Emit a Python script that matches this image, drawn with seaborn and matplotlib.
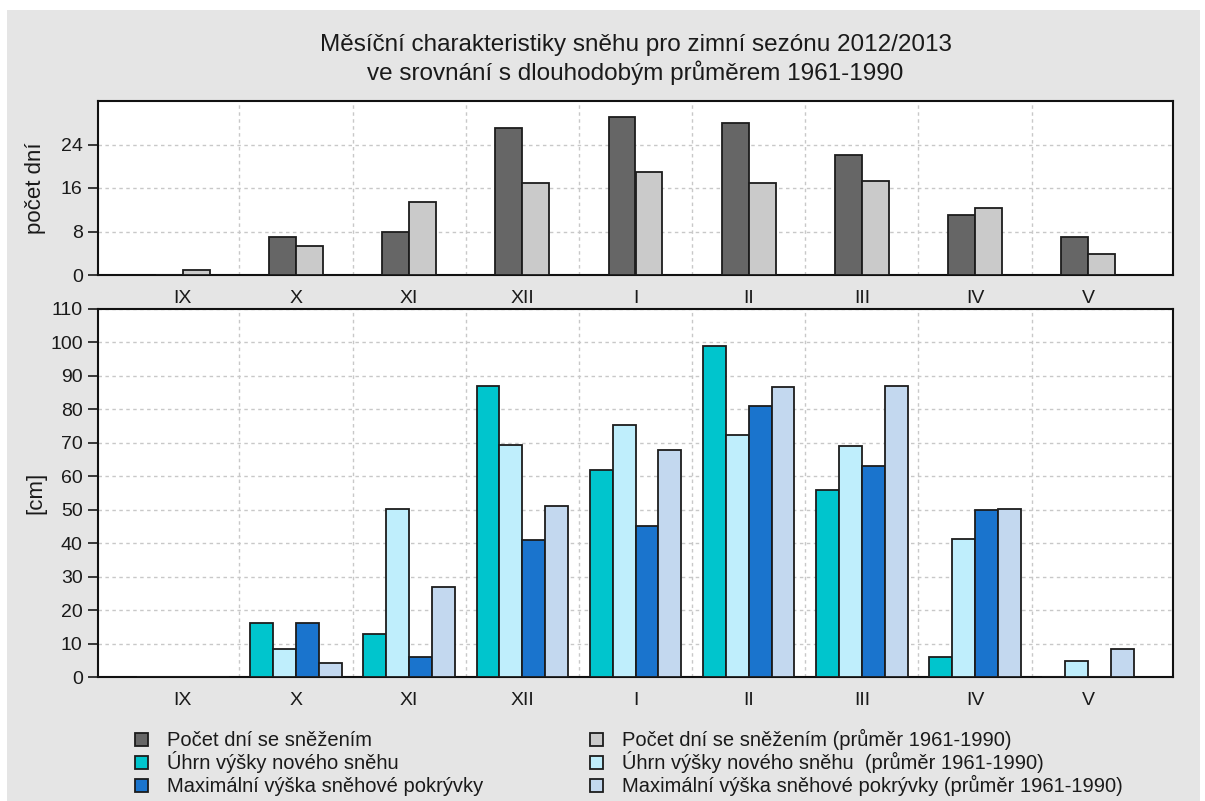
import numpy as np
import pandas as pd
import matplotlib
matplotlib.use("Agg")
import matplotlib.pyplot as plt
import seaborn as sns
from matplotlib.patches import Rectangle

# ---------------- data ----------------
months = ["IX", "X", "XI", "XII", "I", "II", "III", "IV", "V"]
days_snow = [0, 7, 8, 27, 29, 28, 22, 11, 7]
days_snow_avg = [1, 5.3, 13.5, 17, 19, 17, 17.3, 12.3, 3.8]
new_snow = [0, 16, 13, 87, 62, 99, 56, 6, 0]
new_snow_avg = [0, 8.5, 50.3, 69.4, 75.2, 72.2, 68.9, 41.2, 4.7]
max_depth = [0, 16, 6, 41, 45, 81, 63, 50, 0]
max_depth_avg = [0, 4.3, 26.8, 51.2, 67.9, 86.7, 87.1, 50.2, 8.5]

lab_days = "Počet dní se sněžením"
lab_days_avg = "Počet dní se sněžením (průměr 1961-1990)"
lab_new = "Úhrn výšky nového sněhu"
lab_new_avg = "Úhrn výšky nového sněhu  (průměr 1961-1990)"
lab_max = "Maximální výška sněhové pokrývky"
lab_max_avg = "Maximální výška sněhové pokrývky (průměr 1961-1990)"

title1 = "Měsíční charakteristiky sněhu pro zimní sezónu 2012/2013"
title2 = "ve srovnání s dlouhodobým průměrem 1961-1990"
ylabel_top = "počet dní"
ylabel_bottom = "[cm]"

c_days, c_days_avg = "#666666", "#cacaca"
c_new, c_new_avg = "#00c5cd", "#bfeefc"
c_max, c_max_avg = "#1a74cd", "#c3d8ef"

# ---------------- style ----------------
sns.set_style("white")
plt.rcParams["font.family"] = ["Liberation Sans", "DejaVu Sans"]

W, H = 1205, 801
fig = plt.figure(figsize=(W / 100, H / 100), dpi=100)
fig.patch.set_facecolor("white")
fig.patches.append(Rectangle((7 / W, 0), (1200 - 7) / W, 1 - 10 / H,
                             transform=fig.transFigure, facecolor="#e5e5e5",
                             edgecolor="none", zorder=-10))

left, right = 98 / W, 1173 / W
ax1 = fig.add_axes([left, 1 - 275 / H, right - left, (275 - 101) / H])
ax2 = fig.add_axes([left, 1 - 677 / H, right - left, (677 - 309) / H])

df_top = pd.DataFrame({
    "month": months * 2,
    "value": days_snow + days_snow_avg,
    "series": [lab_days] * 9 + [lab_days_avg] * 9,
})
df_bot = pd.DataFrame({
    "month": months * 4,
    "value": new_snow + new_snow_avg + max_depth + max_depth_avg,
    "series": [lab_new] * 9 + [lab_new_avg] * 9 + [lab_max] * 9 + [lab_max_avg] * 9,
})

edge = "#1c1c1c"
sns.barplot(data=df_top, x="month", y="value", hue="series", order=months,
            hue_order=[lab_days, lab_days_avg], palette=[c_days, c_days_avg],
            width=0.476, saturation=1, edgecolor=edge, linewidth=1.3,
            errorbar=None, legend=False, ax=ax1, zorder=3)
sns.barplot(data=df_bot, x="month", y="value", hue="series", order=months,
            hue_order=[lab_new, lab_new_avg, lab_max, lab_max_avg],
            palette=[c_new, c_new_avg, c_max, c_max_avg],
            width=0.81, saturation=1, edgecolor=edge, linewidth=1.3,
            errorbar=None, legend=False, ax=ax2, zorder=3)

for ax, ylim, yticks, ylab in [(ax1, (0, 32), [0, 8, 16, 24], ylabel_top),
                               (ax2, (0, 110), list(range(0, 111, 10)), ylabel_bottom)]:
    ax.set_facecolor("white")
    ax.set_xlim(-0.75, 8.75)
    ax.set_ylim(*ylim)
    ax.set_yticks(yticks)
    ax.set_xlabel("")
    ax.set_ylabel(ylab, fontsize=16, color="#1a1a1a")
    ax.yaxis.set_label_coords(-0.048, 0.5)
    ax.set_xticks(np.arange(0.5, 8, 1), minor=True)
    ax.set_axisbelow(True)
    ax.grid(False)
    ax.yaxis.grid(True, which="major", linestyle=(0, (2.5, 2.5)), color="#c8c8c8", lw=1)
    ax.xaxis.grid(True, which="minor", linestyle=(0, (2.5, 2.5)), color="#c8c8c8", lw=1)
    ax.tick_params(axis="y", which="major", left=True, length=7, width=1.2,
                   color="#1a1a1a", labelsize=14, labelcolor="#1a1a1a", pad=4)
    ax.tick_params(axis="x", which="major", bottom=False, length=0,
                   labelsize=14, labelcolor="#1a1a1a", pad=11)
    ax.tick_params(axis="x", which="minor", bottom=False, length=0)
    for s in ax.spines.values():
        s.set_visible(True)
        s.set_color("#111111")
        s.set_linewidth(1.5)

# ---------------- title ----------------
cx = (left + right) / 2
fig.text(cx, 1 - 45 / H, title1, ha="center", va="center", fontsize=17.5, color="#1a1a1a")
fig.text(cx, 1 - 73 / H, title2, ha="center", va="center", fontsize=17.5, color="#1a1a1a")

# ---------------- legend (swatch + text per entry) ----------------
entries = [
    (c_days, lab_days, 135, 739), (c_new, lab_new, 135, 762), (c_max, lab_max, 135, 785),
    (c_days_avg, lab_days_avg, 590, 739), (c_new_avg, lab_new_avg, 590, 762),
    (c_max_avg, lab_max_avg, 590, 785),
]
sw = 13
for col, lab, px, py in entries:
    fig.patches.append(Rectangle((px / W, 1 - (py + sw / 2) / H), sw / W, sw / H,
                                 transform=fig.transFigure, facecolor=col,
                                 edgecolor=edge, linewidth=1.3, zorder=5))
    fig.text((px + 32) / W, 1 - (py + 7) / H, lab, ha="left", va="baseline",
             fontsize=14.5, color="#1a1a1a")

fig.savefig("out.png", dpi=100, facecolor=fig.get_facecolor())
